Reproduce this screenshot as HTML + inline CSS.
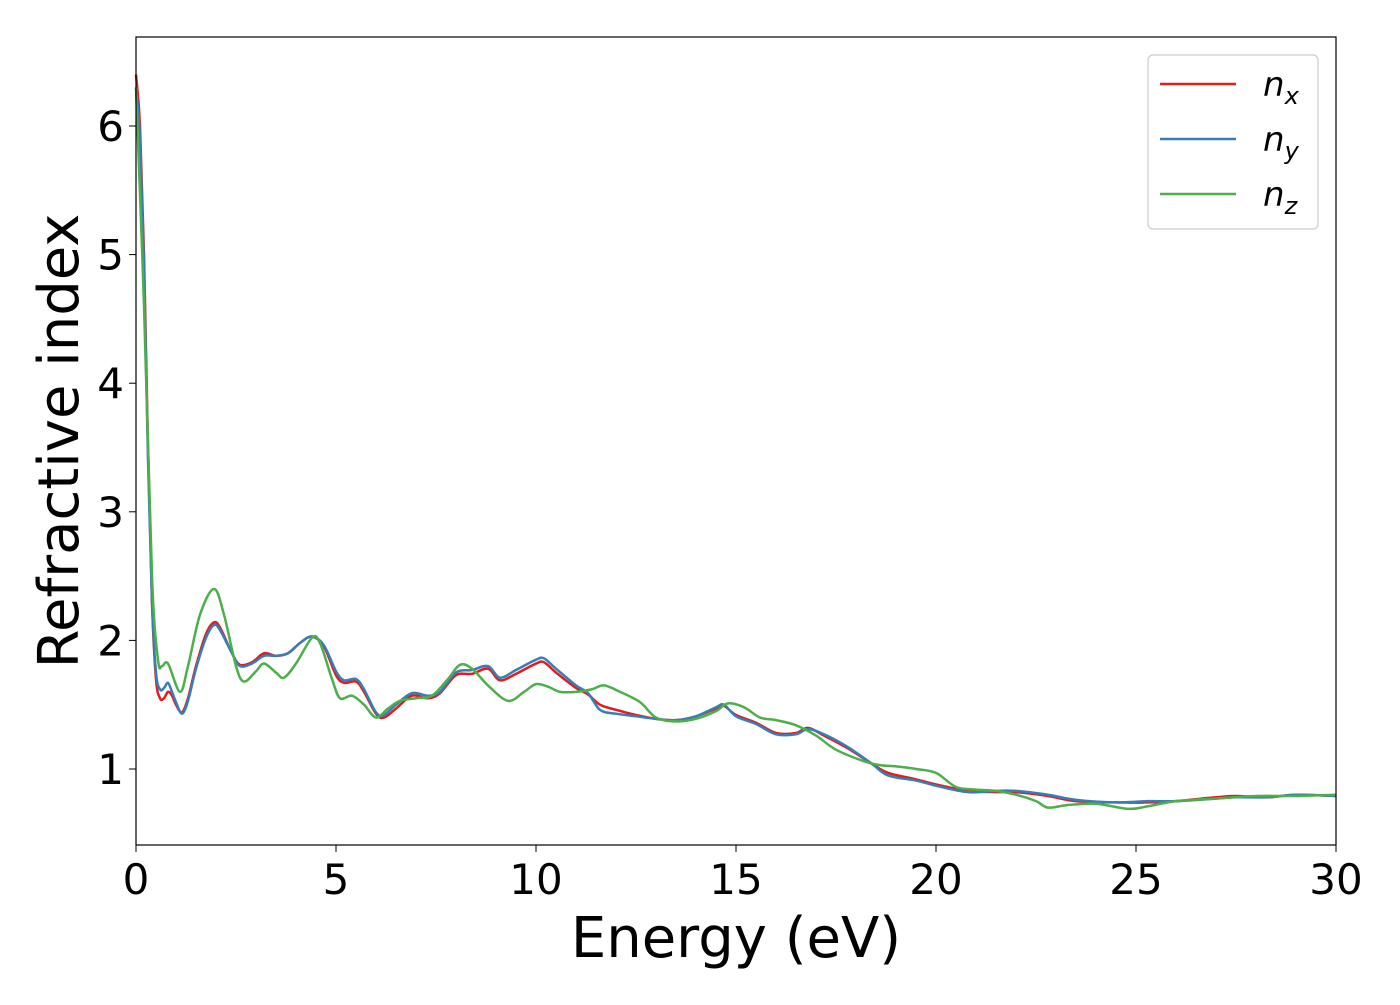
<!DOCTYPE html>
<html><head><meta charset="utf-8"><style>
body{margin:0;background:#fff;}
svg text{font-family:"DejaVu Sans","Liberation Sans",sans-serif;fill:#000;}
</style></head><body>
<svg width="1400" height="1000" xmlns="http://www.w3.org/2000/svg">
<rect width="1400" height="1000" fill="#fff"/>
<g id="plot"></g>
<rect x="136" y="37" width="1200" height="808" fill="none" stroke="#000" stroke-width="1.2"/>
<g id="ticks"></g>
<text x="736" y="957" font-size="56" text-anchor="middle">Energy (eV)</text>
<text transform="translate(78,441) rotate(-90)" font-size="56" text-anchor="middle">Refractive index</text>
<g>
<rect x="1148" y="55" width="170" height="174" rx="5" fill="#fff" stroke="#ccc" stroke-width="1.2"/>
<line x1="1160" y1="84" x2="1236" y2="84" stroke="#e41a1c" stroke-width="2.5"/>
<text x="1263" y="96" font-size="34" font-style="italic">n<tspan font-size="24" dy="8">x</tspan></text>
<line x1="1160" y1="139" x2="1236" y2="139" stroke="#377eb8" stroke-width="2.5"/>
<text x="1263" y="151" font-size="34" font-style="italic">n<tspan font-size="24" dy="8">y</tspan></text>
<line x1="1160" y1="194" x2="1236" y2="194" stroke="#4daf4a" stroke-width="2.5"/>
<text x="1263" y="206" font-size="34" font-style="italic">n<tspan font-size="24" dy="8">z</tspan></text>
</g>
</svg>
<script>
const xTicks=[0,5,10,15,20,25,30];
const yTicks=[1,2,3,4,5,6];
const nxE=[0,0.1,0.2,0.3,0.4,0.5,0.6,0.7,0.8,0.9,1.0,1.15,1.3,1.5,1.75,1.95,2.1,2.4,2.6,2.9,3.2,3.5,3.8,4.1,4.4,4.7,5.0,5.2,5.5,5.7,6.0,6.2,6.5,6.9,7.3,7.6,8.0,8.4,8.8,9.1,9.5,10.0,10.2,10.5,11.0,11.3,11.6,12.0,12.5,13.0,13.5,14.0,14.5,14.7,15.0,15.5,16.0,16.5,16.8,17.2,17.8,18.4,18.8,19.5,20.0,20.8,21.5,22.0,22.8,23.5,24.5,25.3,26.0,27.0,27.5,28.3,29.0,30];
const nxV=[6.4,6.0,5.0,3.5,2.3,1.7,1.55,1.55,1.6,1.57,1.5,1.44,1.55,1.8,2.05,2.14,2.1,1.9,1.81,1.83,1.9,1.88,1.9,1.98,2.03,1.95,1.73,1.67,1.68,1.6,1.43,1.4,1.47,1.57,1.55,1.59,1.73,1.74,1.78,1.69,1.74,1.82,1.83,1.75,1.63,1.58,1.5,1.46,1.42,1.39,1.38,1.41,1.47,1.49,1.42,1.36,1.28,1.28,1.32,1.26,1.16,1.04,0.97,0.92,0.88,0.83,0.82,0.82,0.79,0.75,0.74,0.74,0.75,0.78,0.79,0.78,0.80,0.79];
const nyE=nxE;
const nyV=[6.3,5.9,4.9,3.4,2.3,1.75,1.62,1.63,1.67,1.6,1.52,1.43,1.53,1.78,2.02,2.12,2.08,1.9,1.8,1.82,1.88,1.88,1.9,1.98,2.03,1.96,1.76,1.69,1.7,1.62,1.44,1.42,1.5,1.59,1.57,1.6,1.75,1.77,1.8,1.71,1.77,1.85,1.86,1.78,1.65,1.59,1.46,1.43,1.41,1.39,1.38,1.41,1.48,1.5,1.41,1.35,1.27,1.27,1.31,1.27,1.17,1.04,0.95,0.91,0.87,0.82,0.83,0.83,0.8,0.76,0.74,0.75,0.75,0.77,0.78,0.78,0.80,0.79];
const nzE=[0,0.2,0.4,0.55,0.65,0.8,1.1,1.3,1.6,1.95,2.2,2.5,2.7,3.0,3.2,3.5,3.7,4.0,4.4,4.6,4.9,5.1,5.4,5.7,6.0,6.3,6.6,7.0,7.4,7.8,8.1,8.4,8.8,9.3,9.7,10.0,10.3,10.6,11.0,11.4,11.7,12.1,12.6,13.0,13.5,14.0,14.5,14.8,15.2,15.6,16.0,16.5,17.0,17.5,18.2,18.6,19.0,19.5,20.0,20.5,21.0,21.5,22.0,22.5,22.8,23.3,24.0,24.8,25.3,26.0,27,28,29,30];
const nzV=[6.3,4.6,2.5,1.85,1.8,1.82,1.6,1.8,2.2,2.4,2.2,1.8,1.68,1.76,1.82,1.75,1.71,1.82,2.02,1.98,1.7,1.55,1.57,1.5,1.4,1.47,1.53,1.55,1.57,1.7,1.81,1.78,1.65,1.53,1.6,1.66,1.64,1.6,1.6,1.62,1.65,1.6,1.52,1.4,1.37,1.39,1.45,1.51,1.48,1.4,1.38,1.34,1.26,1.15,1.06,1.03,1.02,1.0,0.97,0.86,0.84,0.83,0.8,0.75,0.7,0.72,0.73,0.69,0.71,0.75,0.77,0.79,0.79,0.80];
const X=e=>136+e*40;
const Y=v=>897.6-v*128.6;
const NS="http://www.w3.org/2000/svg";
function pathFor(E,V){
  const p=E.map((e,i)=>[X(e),Y(V[i])]);
  let d="M"+p[0][0]+","+p[0][1];
  for(let i=0;i<p.length-1;i++){
    const p0=p[i-1]||p[i],p1=p[i],p2=p[i+1],p3=p[i+2]||p2;
    const c1=[p1[0]+(p2[0]-p0[0])/6,p1[1]+(p2[1]-p0[1])/6];
    const c2=[p2[0]-(p3[0]-p1[0])/6,p2[1]-(p3[1]-p1[1])/6];
    d+=" C"+c1+" "+c2+" "+p2;
  }
  return d;
}
const plot=document.getElementById("plot");
[[nxE,nxV,"#e41a1c","series-nx"],[nyE,nyV,"#377eb8","series-ny"],[nzE,nzV,"#4daf4a","series-nz"]].forEach(s=>{
  const el=document.createElementNS(NS,"path");
  el.setAttribute("d",pathFor(s[0],s[1]));
  el.setAttribute("fill","none");
  el.setAttribute("stroke",s[2]);
  el.setAttribute("stroke-width","2.5");
  
  
  plot.appendChild(el);
});
const tk=document.getElementById("ticks");
xTicks.forEach(t=>{
  const l=document.createElementNS(NS,"line");
  l.setAttribute("x1",X(t));l.setAttribute("x2",X(t));l.setAttribute("y1",845);l.setAttribute("y2",852);l.setAttribute("stroke","#000");
  
  
  tk.appendChild(l);
  const tx=document.createElementNS(NS,"text");
  tx.setAttribute("x",X(t));tx.setAttribute("y",894);tx.setAttribute("font-size","42");tx.setAttribute("text-anchor","middle");
  tx.textContent=t;
  
  
  tk.appendChild(tx);
});
yTicks.forEach(t=>{
  const l=document.createElementNS(NS,"line");
  l.setAttribute("x1",129);l.setAttribute("x2",136);l.setAttribute("y1",Y(t));l.setAttribute("y2",Y(t));l.setAttribute("stroke","#000");
  
  
  tk.appendChild(l);
  const tx=document.createElementNS(NS,"text");
  tx.setAttribute("x",124);tx.setAttribute("y",Y(t)+15);tx.setAttribute("font-size","42");tx.setAttribute("text-anchor","end");
  tx.textContent=t;
  
  
  tk.appendChild(tx);
});
</script>
</body></html>
